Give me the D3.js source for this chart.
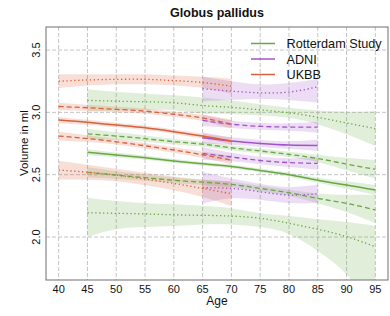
<!DOCTYPE html>
<html><head><meta charset="utf-8">
<script src="https://cdn.jsdelivr.net/npm/d3@7"></script>
<style>body{margin:0;background:#fff}svg{display:block;font-family:"Liberation Sans",Arial,sans-serif}</style>
</head><body><svg id="c" width="390" height="316"></svg>
<script>
const xTicks = [40,45,50,55,60,65,70,75,80,85,90,95];
const yTicks = [2.0,2.5,3.0,3.5];
const cohorts = ["Rotterdam Study","ADNI","UKBB"];
const colors = ["#67a844","#a054c8","#d8613c"];

const ageUKBB = [40,45,50,55,60,65,70];
const ageADNI = [65,70,75,80,85];
const ageRS = [45,50,55,60,65,70,75,80,85,90,95];

// UKBB (top dotted, upper dashed, solid, lower dashed, bottom dotted) with band lo/hi
const ukbbQ1 = [3.25,3.26,3.265,3.265,3.255,3.24,3.21];
const ukbbQ1lo = [3.195,3.215,3.225,3.225,3.215,3.195,3.15];
const ukbbQ1hi = [3.305,3.305,3.305,3.305,3.295,3.285,3.27];
const ukbbQ2 = [3.047,3.037,3.024,3.01,2.985,2.955,2.905];
const ukbbQ2lo = [3.017,3.012,3.002,2.988,2.963,2.93,2.87];
const ukbbQ2hi = [3.077,3.062,3.046,3.032,3.007,2.98,2.94];
const ukbbQ3 = [2.938,2.92,2.898,2.876,2.845,2.81,2.77];
const ukbbQ3lo = [2.913,2.90,2.88,2.858,2.827,2.79,2.742];
const ukbbQ3hi = [2.963,2.94,2.916,2.894,2.863,2.83,2.798];
const ukbbQ4 = [2.81,2.79,2.764,2.732,2.698,2.66,2.617];
const ukbbQ4lo = [2.775,2.763,2.742,2.71,2.676,2.633,2.582];
const ukbbQ4hi = [2.845,2.817,2.786,2.754,2.72,2.687,2.652];
const ukbbQ5 = [2.537,2.52,2.497,2.465,2.43,2.39,2.347];
const ukbbQ5lo = [2.462,2.46,2.447,2.415,2.375,2.32,2.247];
const ukbbQ5hi = [2.612,2.58,2.547,2.515,2.485,2.46,2.447];

// ADNI
const adniQ1 = [3.19,3.17,3.157,3.163,3.205];
const adniQ1lo = [3.09,3.10,3.107,3.10,3.08];
const adniQ1hi = [3.285,3.25,3.225,3.235,3.27];
const adniQ2 = [2.935,2.905,2.888,2.882,2.882];
const adniQ2lo = [2.89,2.875,2.86,2.852,2.837];
const adniQ2hi = [2.98,2.935,2.916,2.912,2.927];
const adniQ3 = [2.796,2.77,2.751,2.738,2.735];
const adniQ3lo = [2.751,2.74,2.723,2.708,2.69];
const adniQ3hi = [2.841,2.80,2.779,2.768,2.78];
const adniQ4 = [2.67,2.642,2.614,2.597,2.59];
const adniQ4lo = [2.62,2.607,2.584,2.562,2.54];
const adniQ4hi = [2.72,2.677,2.644,2.632,2.64];
const adniQ5 = [2.395,2.39,2.363,2.337,2.347];
const adniQ5lo = [2.268,2.31,2.298,2.272,2.272];
const adniQ5hi = [2.522,2.47,2.428,2.402,2.422];

// Rotterdam Study
const rsQ1 = [3.096,3.09,3.085,3.077,3.055,3.04,3.02,2.997,2.96,2.915,2.87];
const rsQ1lo = [3.006,3.015,3.02,3.017,2.99,2.985,2.975,2.957,2.905,2.825,2.73];
const rsQ1hi = [3.186,3.165,3.15,3.137,3.12,3.095,3.065,3.037,3.015,3.005,3.01];
const rsQ2 = [2.828,2.81,2.789,2.765,2.745,2.716,2.69,2.663,2.63,2.585,2.543];
const rsQ2lo = [2.788,2.78,2.764,2.743,2.725,2.696,2.67,2.641,2.60,2.535,2.468];
const rsQ2hi = [2.868,2.84,2.814,2.787,2.765,2.736,2.71,2.685,2.66,2.635,2.618];
const rsQ3 = [2.68,2.658,2.636,2.61,2.587,2.566,2.534,2.5,2.455,2.417,2.377];
const rsQ3lo = [2.655,2.638,2.619,2.595,2.572,2.551,2.519,2.483,2.435,2.387,2.337];
const rsQ3hi = [2.705,2.678,2.653,2.625,2.602,2.581,2.549,2.517,2.475,2.447,2.417];
const rsQ4 = [2.519,2.497,2.476,2.455,2.44,2.422,2.39,2.355,2.31,2.27,2.217];
const rsQ4lo = [2.479,2.467,2.451,2.433,2.418,2.40,2.368,2.33,2.27,2.20,2.11];
const rsQ4hi = [2.559,2.527,2.501,2.477,2.462,2.444,2.412,2.38,2.35,2.34,2.34];
const rsQ5 = [2.195,2.19,2.185,2.178,2.174,2.168,2.15,2.11,2.062,2.003,1.922];
const rsQ5lo = [2.0,2.062,2.08,2.088,2.10,2.10,2.08,2.024,1.888,1.70,1.40];
const rsQ5hi = [2.315,2.289,2.27,2.262,2.25,2.23,2.19,2.168,2.142,2.12,2.09];

const styles = ["1.3,2.6","5,3",null,"5,3","1.3,2.6"];

const groups = [
  {age: ageRS, color: colors[0], q: [[rsQ1,rsQ1lo,rsQ1hi],[rsQ2,rsQ2lo,rsQ2hi],[rsQ3,rsQ3lo,rsQ3hi],[rsQ4,rsQ4lo,rsQ4hi],[rsQ5,rsQ5lo,rsQ5hi]]},
  {age: ageADNI, color: colors[1], q: [[adniQ1,adniQ1lo,adniQ1hi],[adniQ2,adniQ2lo,adniQ2hi],[adniQ3,adniQ3lo,adniQ3hi],[adniQ4,adniQ4lo,adniQ4hi],[adniQ5,adniQ5lo,adniQ5hi]]},
  {age: ageUKBB, color: colors[2], q: [[ukbbQ1,ukbbQ1lo,ukbbQ1hi],[ukbbQ2,ukbbQ2lo,ukbbQ2hi],[ukbbQ3,ukbbQ3lo,ukbbQ3hi],[ukbbQ4,ukbbQ4lo,ukbbQ4hi],[ukbbQ5,ukbbQ5lo,ukbbQ5hi]]}
];

const L = 46, R = 388, T = 27, B = 280;
const x = d3.scaleLinear().domain([37.8, 97.2]).range([L, R]);
const y = d3.scaleLinear().domain([1.655, 3.685]).range([B, T]);

const svg = d3.select("#c");
svg.append("defs").append("clipPath").attr("id","clip")
  .append("rect").attr("x",L).attr("y",T).attr("width",R-L).attr("height",B-T);

// grid
const grid = svg.append("g").attr("stroke","#bdbdbd").attr("stroke-width",0.9).attr("stroke-dasharray","4,2");
grid.selectAll(".gx").data(xTicks).join("line")
  .attr("x1",d=>x(d)).attr("x2",d=>x(d)).attr("y1",T).attr("y2",B);
grid.selectAll(".gy").data(yTicks).join("line")
  .attr("y1",d=>y(d)).attr("y2",d=>y(d)).attr("x1",L).attr("x2",R);

const plot = svg.append("g").attr("clip-path","url(#clip)");
const curve = d3.curveNatural;

groups.forEach(g => {
  g.q.forEach(([mid, lo, hi]) => {
    const pts = g.age.map((a,i)=>({a, lo:lo[i], hi:hi[i]}));
    plot.append("path").datum(pts)
      .attr("fill", g.color).attr("fill-opacity", 0.2)
      .attr("d", d3.area().x(d=>x(d.a)).y0(d=>y(d.lo)).y1(d=>y(d.hi)).curve(curve));
  });
});
groups.forEach(g => {
  g.q.forEach(([mid], k) => {
    const pts = g.age.map((a,i)=>({a, v:mid[i]}));
    plot.append("path").datum(pts)
      .attr("fill","none").attr("stroke", g.color)
      .attr("stroke-width", k===2 ? 1.5 : 1.3)
      .attr("stroke-dasharray", styles[k])
      .attr("d", d3.line().x(d=>x(d.a)).y(d=>y(d.v)).curve(curve));
  });
});

// box
svg.append("rect").attr("x",L).attr("y",T).attr("width",R-L).attr("height",B-T)
  .attr("fill","none").attr("stroke","#6e6e6e").attr("stroke-width",1);

// axes labels
svg.append("g").selectAll("text").data(xTicks).join("text")
  .attr("x",d=>x(d)).attr("y",293).attr("text-anchor","middle")
  .attr("font-size",11).attr("fill","#111").text(d=>d);
svg.append("g").selectAll("text").data(yTicks).join("text")
  .attr("transform",d=>`translate(39.5,${y(d)}) rotate(-90)`).attr("text-anchor","middle")
  .attr("font-size",11).attr("fill","#111").text(d=>d.toFixed(1));

svg.append("text").attr("x",(L+R)/2).attr("y",305).attr("text-anchor","middle")
  .attr("font-size",12).attr("fill","#111").text("Age");
svg.append("text").attr("transform","translate(28,143) rotate(-90)").attr("text-anchor","middle")
  .attr("font-size",11.5).attr("fill","#111").text("Volume in ml");
svg.append("text").attr("x",217).attr("y",17).attr("text-anchor","middle")
  .attr("font-size",12.5).attr("font-weight","bold").attr("fill","#111").text("Globus pallidus");

// legend
const leg = svg.append("g");
cohorts.forEach((c,i) => {
  const yy = 43.5 + i*15.5;
  leg.append("line").attr("x1",251).attr("x2",275).attr("y1",yy).attr("y2",yy)
    .attr("stroke",colors[i]).attr("stroke-width",1.5);
  leg.append("text").attr("x",286.5).attr("y",yy).attr("dy","0.36em")
    .attr("font-size",12.7).attr("fill","#111").text(c);
});
</script></body></html>
